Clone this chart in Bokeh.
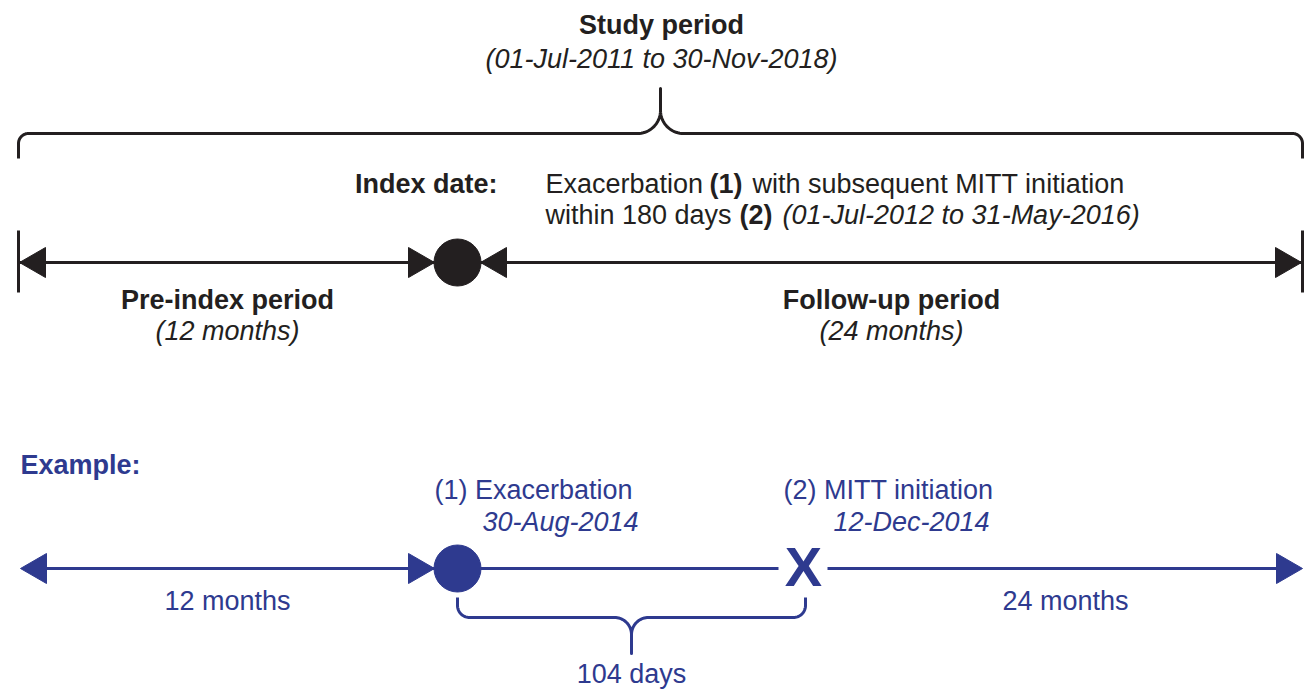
import numpy as np
from bokeh.plotting import figure
from bokeh.models import Range1d
from bokeh.core.properties import value
from bokeh.embed import file_html
from bokeh.resources import INLINE

# ---------------- data ----------------
study_title = "Study period"
study_dates = "(01-Jul-2011 to 30-Nov-2018)"
index_label = "Index date:"
index_line1 = ["Exacerbation ", "(1)", "with subsequent MITT initiation"]
index_line2 = ["within 180 days ", "(2)", "(01-Jul-2012 to 31-May-2016)"]
period_names = ["Pre-index period", "Follow-up period"]
period_lengths = ["(12 months)", "(24 months)"]
example_title = "Example:"
event_names = ["(1) Exacerbation", "(2) MITT initiation"]
event_dates = ["30-Aug-2014", "12-Dec-2014"]
example_spans = ["12 months", "24 months"]
gap_label = "104 days"

# timeline anchor positions (start, index/event, end)
top_timeline_x = [18, 457, 1302]
example_timeline_x = [18, 457, 803, 1302]

BLACK = "#231f20"
BLUE = "#2e3a8f"
FONT = value("Liberation Sans")
FSIZE = 27

W, H = 1309, 690
p = figure(width=W, height=H, x_range=Range1d(0, W), y_range=Range1d(H, 0),
           output_backend="svg", toolbar_location=None, min_border=0,
           x_axis_type=None, y_axis_type=None)
p.grid.visible = False
p.outline_line_color = None
p.background_fill_color = "white"
p.border_fill_color = "white"


def txt(x, y, s, color=BLACK, style="normal", align="left", size=FSIZE, k=0.3):
    # y is the wanted baseline; compensate the renderer's baseline offset
    p.text(x=[x], y=[y - k * size], text=[s], text_font=FONT,
           text_font_size=value(f"{size}px"),
           text_font_style=style, text_align=align, text_baseline="alphabetic",
           text_color=color)


def head(tip_x, y, direction, color, L=26, hw=15):
    base = tip_x - direction * L
    p.patch([tip_x, base, base], [y, y - hw, y + hw], fill_color=color,
            line_color=color, line_width=1)


def brace(x0, x1, y_end, y_bar, y_tip, r_end, r_mid, color):
    xm = (x0 + x1) / 2.0
    t = np.linspace(0, np.pi / 2, 20)
    sgn = 1 if y_tip > y_bar else -1
    xs = [x0]
    ys = [y_end]
    ax = x0 + r_end - r_end * np.cos(t)
    ay = y_bar - sgn * r_end + sgn * r_end * np.sin(t)
    xs += list(ax)
    ys += list(ay)
    cx = xm - r_mid
    bx = cx + r_mid * np.sin(t)
    by = y_bar + sgn * r_mid - sgn * r_mid * np.cos(t)
    xs += list(bx)
    ys += list(by)
    xs.append(xm)
    ys.append(y_tip)
    left_x = np.array(xs)
    left_y = np.array(ys)
    right_x = 2 * xm - left_x[::-1]
    right_y = left_y[::-1]
    p.line(np.concatenate([left_x, right_x]), np.concatenate([left_y, right_y]),
           line_color=color, line_width=3, line_join="round")


# ---------------- top section ----------------
txt(661, 33, study_title, style="bold", align="center")
txt(661, 67, study_dates, style="italic", align="center")
brace(top_timeline_x[0], top_timeline_x[2], 158, 133, 88, 10, 23, BLACK)

txt(497, 192, index_label, style="bold", align="right")
txt(545, 192, index_line1[0])
txt(709, 192, index_line1[1], style="bold")
txt(752, 192, index_line1[2])
txt(545, 223, index_line2[0])
txt(739, 223, index_line2[1], style="bold")
txt(782, 223, index_line2[2], style="italic")

ty = 262
x0, xi, x1 = top_timeline_x
p.line([x0, xi - 23], [ty, ty], line_color=BLACK, line_width=3)
p.line([xi + 23, x1], [ty, ty], line_color=BLACK, line_width=3)
for xb in (x0, x1):
    p.line([xb, xb], [230, 292], line_color=BLACK, line_width=3)
head(x0 + 1, ty, -1, BLACK)
head(xi - 23, ty, 1, BLACK)
head(xi + 23, ty, -1, BLACK)
head(x1 - 1, ty, 1, BLACK)
p.scatter([xi], [ty], size=47, marker="circle", fill_color=BLACK, line_color=BLACK)

txt(227, 308, period_names[0], style="bold", align="center")
txt(227, 339, period_lengths[0], style="italic", align="center")
txt(891, 308, period_names[1], style="bold", align="center")
txt(891, 339, period_lengths[1], style="italic", align="center")

# ---------------- example section ----------------
txt(20, 473, example_title, color=BLUE, style="bold")
txt(434, 498, event_names[0], color=BLUE)
txt(482, 530, event_dates[0], color=BLUE, style="italic")
txt(783, 498, event_names[1], color=BLUE)
txt(833, 530, event_dates[1], color=BLUE, style="italic")

ey = 568
e0, e1, e2, e3 = example_timeline_x
p.line([e0 + 5, e1 - 23], [ey, ey], line_color=BLUE, line_width=3)
p.line([e1 + 23, e2 - 25], [ey, ey], line_color=BLUE, line_width=3)
p.line([e2 + 24, e3 - 5], [ey, ey], line_color=BLUE, line_width=3)
head(e0 + 2, ey, -1, BLUE)
head(e1 - 23, ey, 1, BLUE)
head(e3, ey, 1, BLUE)
p.scatter([e1], [ey], size=47, marker="circle", fill_color=BLUE, line_color=BLUE)
txt(e2, 588, "X", color=BLUE, style="bold", align="center", size=56, k=0.39)

brace(e1, 805, 597, 617, 653, 12, 17, BLUE)

txt(227, 609, example_spans[0], color=BLUE, align="center")
txt(1065, 609, example_spans[1], color=BLUE, align="center")
txt(631, 682, gap_label, color=BLUE, align="center")

open("out.html", "w").write(file_html(p, INLINE))
